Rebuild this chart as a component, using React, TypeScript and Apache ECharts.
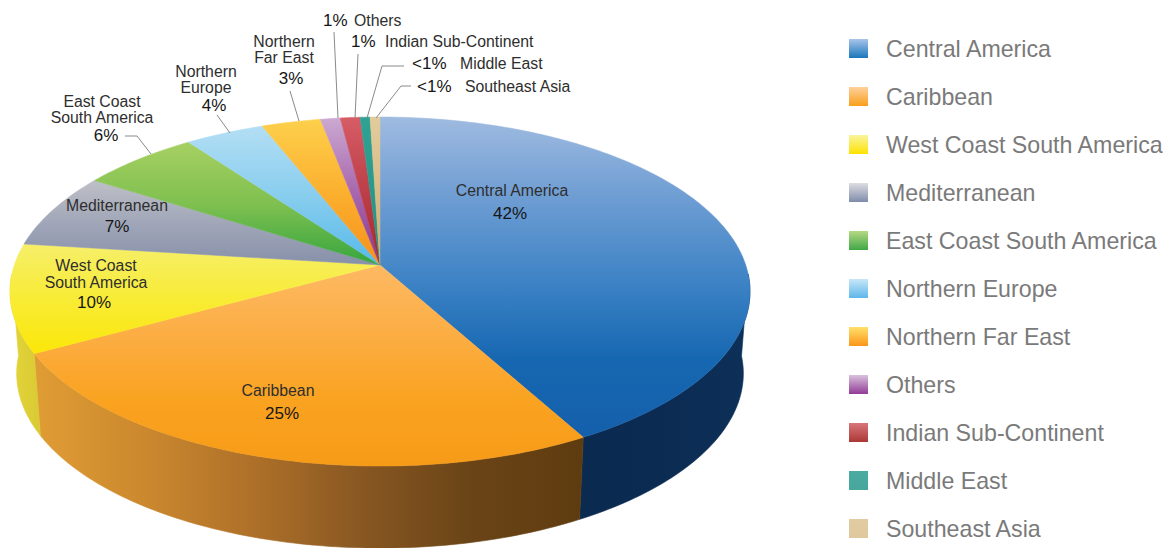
import React, { useEffect, useRef } from "react";
import * as echarts from "echarts";

// Regions clockwise from twelve o'clock, with their share of the total in percent.
const regions = [
  "Central America",
  "Caribbean",
  "West Coast South America",
  "Mediterranean",
  "East Coast South America",
  "Northern Europe",
  "Northern Far East",
  "Others",
  "Indian Sub-Continent",
  "Middle East",
  "Southeast Asia",
];
const shares = [42, 25, 10, 7, 6, 4, 3, 1, 1, 0.5, 0.5];

// Vertical colour ramps of the top face: [y on screen, colour] stops.
const topRamps: [number, number, string[]][] = [
  [117, 440, ["#9fbbe0", "#6e9dd3", "#3f84c6", "#1667b1", "#155fab"]],
  [265, 466, ["#fdb963", "#fcae45", "#faa321", "#f69b18"]],
  [238, 350, ["#f6ef70", "#f8ec3a", "#fbe70c"]],
  [183, 265, ["#bcbec6", "#a0a6b8", "#8790aa"]],
  [143, 265, ["#a6d062", "#7fc050", "#35a53e"]],
  [128, 265, ["#b2def4", "#88cdee", "#56b9e8"]],
  [119, 265, ["#fdd04c", "#fbb02f", "#f6901c"]],
  [117, 265, ["#cbaad2", "#a968ae", "#8a3590"]],
  [117, 265, ["#d65c65", "#bd3f48", "#a3282c"]],
  [117, 265, ["#2fa293", "#249082"]],
  [117, 265, ["#e2cb9c", "#cfae72"]],
];

// Horizontal colour ramps of the side wall; only the front slices reach it.
const wallRamps: ([number, number, string[]] | null)[] = [
  [575, 745, ["#0b2a50", "#0b2b52", "#0d3058"]],
  [38, 578, ["#df9c34", "#cb882e", "#ae7029", "#885722", "#6a4416", "#5f3c10"]],
  [8, 40, ["#e6d63c", "#d9c933"]],
  null, null, null, null, null, null, null, null,
];

// Vertical ramps of the legend swatches.
const swatchRamps = [
  ["#a9c5e9", "#1877bc"],
  ["#fdd19c", "#f99f1b"],
  ["#f8f59c", "#fde200"],
  ["#dedee2", "#7e8baa"],
  ["#b6d985", "#3fa845"],
  ["#c7e7f8", "#5eb7ea"],
  ["#ffe16a", "#fb951b"],
  ["#d9c1de", "#913b95"],
  ["#d9757b", "#ab3935"],
  ["#4caba1", "#48a79c"],
  ["#e1cba1", "#dfc89c"],
];

// Perspective disc: apex of the slices, half axes and foreshortening.
const APEX_X = 380;
const APEX_Y = 265;
const AX_X = 365.7;
const AX_Y = 170.5;
const FORESHORTEN = 0.152;
const WALL_DROP = 82;
const WALL_TAPER = 0.982;
const WALL_FROM = 93;
const WALL_TO = 267;

// Screen point of a rim angle measured clockwise from the back of the disc.
const rim = (deg: number, lower: boolean): [number, number] => {
  const t = (deg * Math.PI) / 180;
  const u = Math.sin(t);
  const v = -Math.cos(t);
  const w = 1 - FORESHORTEN * v;
  const dx = (AX_X * u) / w;
  const dy = (AX_Y * v) / w;
  return lower
    ? [APEX_X + dx * WALL_TAPER, APEX_Y + dy + WALL_DROP]
    : [APEX_X + dx, APEX_Y + dy];
};

const arc = (from: number, to: number, lower: boolean) => {
  const n = Math.max(2, Math.ceil(Math.abs(to - from)));
  const pts: [number, number][] = [];
  for (let i = 0; i <= n; i++) pts.push(rim(from + ((to - from) * i) / n, lower));
  return pts;
};

const ramp = (x0: number, y0: number, x1: number, y1: number, colors: string[]) =>
  new echarts.graphic.LinearGradient(
    x0, y0, x1, y1,
    colors.map((color, i) => ({ offset: i / (colors.length - 1), color })),
    true
  );

const total = shares.reduce((a, b) => a + b, 0);
const starts = shares.map((_, i) => shares.slice(0, i).reduce((a, b) => a + b, 0));

// Side wall of one slice, between the upper and the lower rim.
const renderWall = (params: any, api: any) => {
  const i = params.dataIndex;
  const spec = wallRamps[i];
  const a0 = Math.max((api.value(0) / total) * 360, WALL_FROM);
  const a1 = Math.min(((api.value(0) + api.value(1)) / total) * 360, WALL_TO);
  if (!spec || a1 <= a0) return { type: "group", children: [] };
  const fill = ramp(spec[0], 0, spec[1], 0, spec[2]);
  const points = [...arc(a0, a1, false), ...arc(a1, a0, true)];
  return { type: "polygon", shape: { points }, style: { fill, stroke: fill, lineWidth: 0.6 } };
};

// Top face of one slice.
const renderTop = (index: number) => (_: any, api: any) => {
  const a0 = (api.value(0) / total) * 360;
  const a1 = ((api.value(0) + api.value(1)) / total) * 360;
  const [y0, y1, colors] = topRamps[index];
  const fill = ramp(0, y0, 0, y1, colors);
  const points = [[APEX_X, APEX_Y], ...arc(a0, a1, false)];
  return { type: "polygon", shape: { points }, style: { fill, stroke: fill, lineWidth: 0.5 } };
};

const NAME_FONT = 15.8;
const PCT_FONT = 17;
const NAME_COLOR = "#2e2e2e";
const PCT_COLOR = "#161616";
const FAMILY = "'Liberation Sans', Arial, sans-serif";

// Slice captions: text, x, y and alignment.
const nameLabels: [string, number, number, string][] = [
  ["Central America", 512, 190, "center"],
  ["Caribbean", 278, 390, "center"],
  ["West Coast", 96, 265, "center"],
  ["South America", 96, 282, "center"],
  ["Mediterranean", 117, 205, "center"],
  ["East Coast", 102, 101, "center"],
  ["South America", 102, 117, "center"],
  ["Northern", 206, 71, "center"],
  ["Europe", 206, 87, "center"],
  ["Northern", 284, 41, "center"],
  ["Far East", 284, 57, "center"],
  ["Others", 354, 20, "left"],
  ["Indian Sub-Continent", 385, 41, "left"],
  ["Middle East", 460, 63, "left"],
  ["Southeast Asia", 465, 86, "left"],
];
const percentLabels: [string, number, number, string][] = [
  ["42%", 510, 213, "center"],
  ["25%", 282, 413, "center"],
  ["10%", 94, 302, "center"],
  ["7%", 117, 226, "center"],
  ["6%", 106, 135, "center"],
  ["4%", 214, 105, "center"],
  ["3%", 291, 78, "center"],
  ["1%", 323, 20, "left"],
  ["1%", 351, 41, "left"],
  ["<1%", 412, 63, "left"],
  ["<1%", 417, 86, "left"],
];
const leaders: number[][][] = [
  [[125, 136], [137, 136], [151, 154]],
  [[217, 115], [230, 133]],
  [[290, 91], [299, 121]],
  [[334, 32], [338, 118]],
  [[358, 54], [355, 118]],
  [[404, 66], [382, 66], [367, 118]],
  [[411, 86], [401, 86], [376, 118]],
];

const textItem = (
  [text, x, y, align]: [string, number, number, string],
  fontSize: number,
  fill: string
) => ({
  type: "text",
  x,
  y,
  silent: true,
  z: 10,
  style: { text, fontSize, fontFamily: FAMILY, fill, align, verticalAlign: "middle" },
});

export default function App() {
  const ref = useRef<HTMLDivElement>(null);

  useEffect(() => {
    document.body.style.margin = "0";
    const chart = echarts.init(ref.current!, undefined, { renderer: "svg" });
    chart.setOption({
      animation: false,
      backgroundColor: "#ffffff",
      legend: {
        orient: "vertical",
        left: 849,
        top: 37,
        padding: 0,
        icon: "rect",
        itemWidth: 19,
        itemHeight: 19,
        itemGap: 25,
        selectedMode: false,
        textStyle: {
          fontSize: 23.2,
          fontFamily: FAMILY,
          color: "#7a7a7a",
          padding: [0, 0, 0, 13],
        },
        data: regions.map((name, i) => ({
          name,
          itemStyle: {
            color: new echarts.graphic.LinearGradient(0, 0, 0, 1, [
              { offset: 0, color: swatchRamps[i][0] },
              { offset: 1, color: swatchRamps[i][1] },
            ]),
          },
        })),
      },
      series: [
        {
          type: "custom",
          name: "Side wall",
          coordinateSystem: "none",
          silent: true,
          z: 1,
          renderItem: renderWall,
          data: shares.map((v, i) => [starts[i], v]),
        },
        ...regions.map((name, i) => ({
          type: "custom",
          name,
          coordinateSystem: "none",
          silent: true,
          z: 2,
          renderItem: renderTop(i),
          data: [[starts[i], shares[i]]],
        })),
      ],
      graphic: {
        elements: [
          ...leaders.map((points) => ({
            type: "polyline",
            silent: true,
            z: 9,
            shape: { points },
            style: { stroke: "#8a8a8a", lineWidth: 1, fill: "none" },
          })),
          ...nameLabels.map((l) => textItem(l, NAME_FONT, NAME_COLOR)),
          ...percentLabels.map((l) => textItem(l, PCT_FONT, PCT_COLOR)),
        ],
      },
    });
    return () => chart.dispose();
  }, []);

  return <div ref={ref} style={{ width: 1163, height: 548 }} />;
}
